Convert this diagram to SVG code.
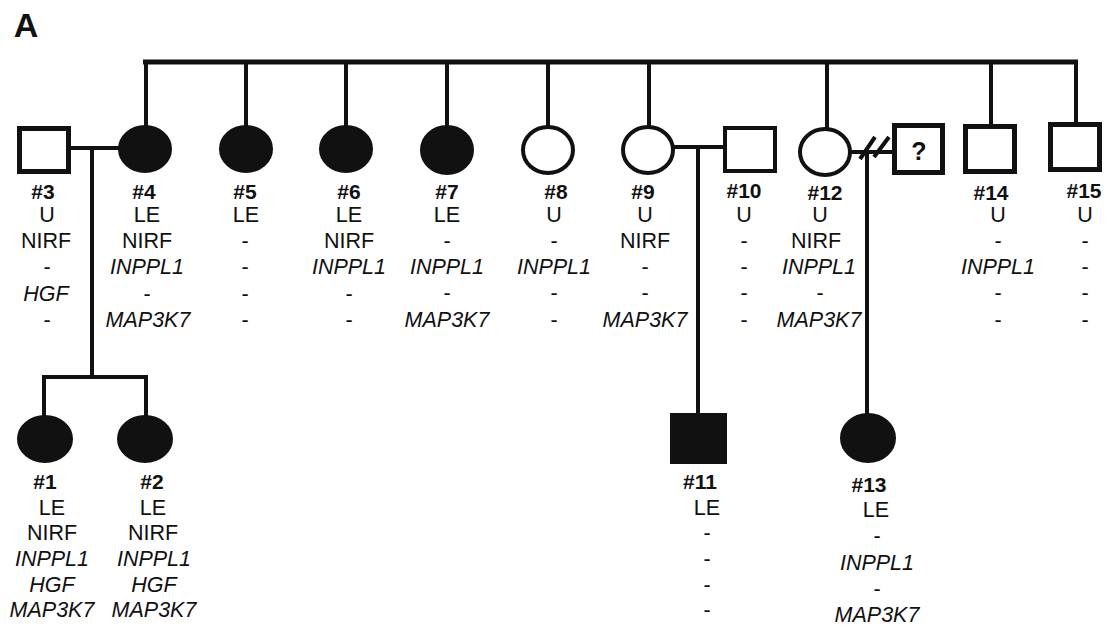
<svg xmlns="http://www.w3.org/2000/svg" width="1111" height="627" viewBox="0 0 1111 627">
<style>
text{font-family:"Liberation Sans",Arial,sans-serif;font-size:21.5px;fill:#111;text-anchor:middle}
.id{font-weight:bold;font-size:21px}
.i{font-style:italic}
.ln{stroke:#111;stroke-width:4;fill:none}
.open{fill:#fff;stroke:#111;stroke-width:4}
.thick{fill:#fff;stroke:#111;stroke-width:5}
.fill{fill:#111;stroke:#111;stroke-width:2}
</style>
<rect width="1111" height="627" fill="#fff"/>
<text x="26" y="37" style="font-weight:bold;font-size:34px">A</text>
<g id="connectors">
<line class="ln" x1="143" y1="62" x2="1078" y2="62" style="stroke-width:5"/>
<line class="ln" x1="146" y1="62" x2="146" y2="126"/>
<line class="ln" x1="246" y1="62" x2="246" y2="126"/>
<line class="ln" x1="346" y1="62" x2="346" y2="126"/>
<line class="ln" x1="447" y1="62" x2="447" y2="126"/>
<line class="ln" x1="548" y1="62" x2="548" y2="127"/>
<line class="ln" x1="649" y1="62" x2="649" y2="127"/>
<line class="ln" x1="827" y1="62" x2="827" y2="129"/>
<line class="ln" x1="991" y1="62" x2="991" y2="125"/>
<line class="ln" x1="1076" y1="60" x2="1076" y2="123"/>
<line class="ln" x1="71" y1="148" x2="119" y2="148"/>
<line class="ln" x1="92" y1="148" x2="92" y2="377"/>
<line class="ln" x1="42" y1="377" x2="148" y2="377"/>
<line class="ln" x1="44" y1="377" x2="44" y2="416"/>
<line class="ln" x1="146" y1="377" x2="146" y2="416"/>
<line class="ln" x1="674" y1="147" x2="724" y2="147"/>
<line class="ln" x1="698" y1="147" x2="698" y2="414"/>
<line class="ln" x1="850" y1="152" x2="893" y2="152"/>
<line class="ln" x1="867" y1="152" x2="867" y2="414"/>
<line class="ln" x1="860" y1="159" x2="875" y2="137"/>
<line class="ln" x1="874" y1="157" x2="889" y2="137"/>
</g>
<g id="n3"><rect class="thick" x="19.5" y="128.5" width="49" height="43"/>
<text class="id" x="43" y="199">#3</text><text x="47" y="222">U</text><text x="46" y="248">NIRF</text><text x="47" y="274">-</text><text class="i" x="46" y="301">HGF</text><text x="47" y="327">-</text></g>
<g id="n4"><ellipse class="fill" cx="145" cy="149" rx="26" ry="23"/>
<text class="id" x="144" y="199">#4</text><text x="147" y="222">LE</text><text x="147" y="248">NIRF</text><text class="i" x="147" y="274">INPPL1</text><text x="147" y="301">-</text><text class="i" x="148" y="327">MAP3K7</text></g>
<g id="n5"><ellipse class="fill" cx="246" cy="149" rx="26" ry="23"/>
<text class="id" x="245" y="199">#5</text><text x="246" y="222">LE</text><text x="245" y="248">-</text><text x="245" y="274">-</text><text x="245" y="301">-</text><text x="245" y="327">-</text></g>
<g id="n6"><ellipse class="fill" cx="346" cy="149" rx="26" ry="23"/>
<text class="id" x="349" y="199">#6</text><text x="349" y="222">LE</text><text x="349" y="248">NIRF</text><text class="i" x="349" y="274">INPPL1</text><text x="349" y="301">-</text><text x="349" y="327">-</text></g>
<g id="n7"><ellipse class="fill" cx="447" cy="150" rx="26" ry="24"/>
<text class="id" x="447" y="199">#7</text><text x="447" y="222">LE</text><text x="447" y="248">-</text><text class="i" x="447" y="274">INPPL1</text><text x="447" y="300">-</text><text class="i" x="447" y="327">MAP3K7</text></g>
<g id="n8"><ellipse class="open" cx="548" cy="150" rx="25" ry="23"/>
<text class="id" x="556" y="199">#8</text><text x="554" y="222">U</text><text x="554" y="248">-</text><text class="i" x="554" y="274">INPPL1</text><text x="554" y="300">-</text><text x="554" y="327">-</text></g>
<g id="n9"><ellipse class="open" cx="648" cy="150" rx="25" ry="23"/>
<text class="id" x="643" y="199">#9</text><text x="645" y="222">U</text><text x="645" y="248">NIRF</text><text x="645" y="274">-</text><text x="645" y="300">-</text><text class="i" x="645" y="327">MAP3K7</text></g>
<g id="n10"><rect class="open" x="725" y="128" width="50" height="43"/>
<text class="id" x="744" y="198">#10</text><text x="744" y="222">U</text><text x="744" y="248">-</text><text x="744" y="274">-</text><text x="744" y="300">-</text><text x="744" y="327">-</text></g>
<g id="n12"><ellipse class="open" cx="825" cy="152" rx="25" ry="23"/>
<text class="id" x="825" y="200">#12</text><text x="820" y="222">U</text><text x="816" y="248">NIRF</text><text class="i" x="819" y="274">INPPL1</text><text x="820" y="300">-</text><text class="i" x="819" y="327">MAP3K7</text></g>
<g id="nq"><rect class="thick" x="894.5" y="125.5" width="48" height="47"/>
<text class="id" x="919" y="160" style="font-size:25px">?</text></g>
<g id="n14"><rect class="thick" x="965.5" y="126.5" width="49" height="45"/>
<text class="id" x="991" y="200">#14</text><text x="998" y="222">U</text><text x="998" y="248">-</text><text class="i" x="998" y="274">INPPL1</text><text x="998" y="300">-</text><text x="998" y="327">-</text></g>
<g id="n15"><rect class="thick" x="1050.5" y="124.5" width="49" height="45"/>
<text class="id" x="1084" y="198">#15</text><text x="1085" y="222">U</text><text x="1085" y="248">-</text><text x="1085" y="274">-</text><text x="1085" y="300">-</text><text x="1085" y="327">-</text></g>
<g id="n1"><ellipse class="fill" cx="45" cy="439" rx="27" ry="23"/>
<text class="id" x="45" y="489">#1</text><text x="52" y="515">LE</text><text x="52" y="540">NIRF</text><text class="i" x="52" y="566">INPPL1</text><text class="i" x="52" y="592">HGF</text><text class="i" x="52" y="617">MAP3K7</text></g>
<g id="n2"><ellipse class="fill" cx="145" cy="439" rx="27" ry="23"/>
<text class="id" x="152" y="489">#2</text><text x="153" y="515">LE</text><text x="153" y="540">NIRF</text><text class="i" x="154" y="566">INPPL1</text><text class="i" x="154" y="592">HGF</text><text class="i" x="154" y="617">MAP3K7</text></g>
<g id="n11"><rect class="fill" x="671" y="414" width="55" height="49"/>
<text class="id" x="700" y="489">#11</text><text x="707" y="515">LE</text><text x="707" y="540">-</text><text x="707" y="566">-</text><text x="707" y="592">-</text><text x="707" y="617">-</text></g>
<g id="n13"><ellipse class="fill" cx="868" cy="438" rx="27" ry="24"/>
<text class="id" x="869" y="492">#13</text><text x="876" y="517">LE</text><text x="877" y="543">-</text><text class="i" x="877" y="570">INPPL1</text><text x="877" y="596">-</text><text class="i" x="877" y="622">MAP3K7</text></g>
</svg>
